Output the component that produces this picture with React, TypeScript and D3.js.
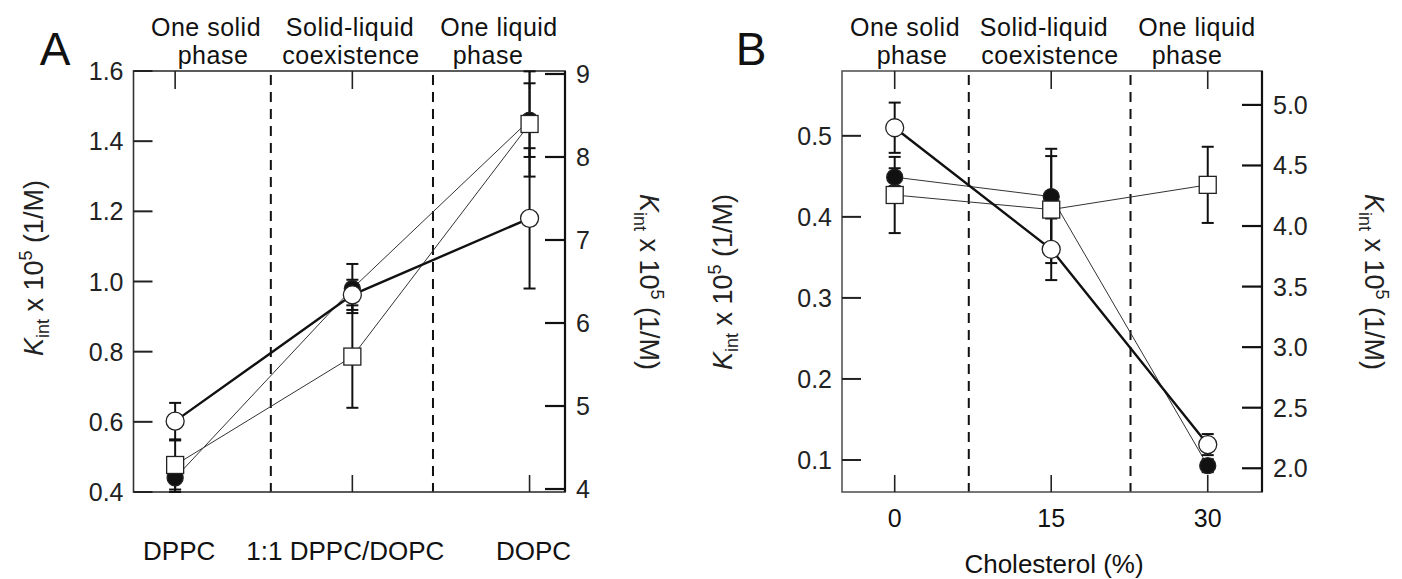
import React from "react";
import * as d3 from "d3";

const FONT = "'Liberation Sans', Arial, Helvetica, sans-serif";

// ---- panel A data (lipid composition) ----
const aCategories = ["DPPC", "1:1 DPPC/DOPC", "DOPC"];
const aX = [0, 1, 2];
const aFilled = [0.44, 0.98, 1.46];
const aFilledErr = [0.04, 0.07, 0.105];
const aOpen = [0.602, 0.962, 1.18];
const aOpenErr = [0.052, 0.043, 0.2];
const aSquare = [0.477, 0.786, 1.449];
const aSquareErr = [0.07, 0.146, 0.15];
const aLeftTicks = [0.4, 0.6, 0.8, 1.0, 1.2, 1.4, 1.6];
const aRightTicks = [4, 5, 6, 7, 8, 9];
const aDividers = [0.54, 1.455];

// ---- panel B data (cholesterol) ----
const bX = [0, 15, 30];
const bFilled = [0.449, 0.425, 0.093];
const bFilledErr = [0.011, 0.059, 0.008];
const bOpen = [0.51, 0.36, 0.119];
const bOpenErr = [0.031, 0.038, 0.013];
const bSquare = [0.427, 0.409, 0.4395];
const bSquareErr = [0.047, 0.066, 0.047];
const bLeftTicks = [0.1, 0.2, 0.3, 0.4, 0.5];
const bRightTicks = [2.0, 2.5, 3.0, 3.5, 4.0, 4.5, 5.0];
const bXTicks = [0, 15, 30];
const bDividers = [7.1, 22.6];

const headers = [
  ["One solid", "phase"],
  ["Solid-liquid", "coexistence"],
  ["One liquid", "phase"],
];

type Series = { values: number[]; errors: number[]; marker: string; thick: boolean };

const YLabel = ({ x, y, rot }: { x: number; y: number; rot: number }) => (
  <text
    transform={`translate(${x},${y}) rotate(${rot})`}
    textAnchor="middle"
    fontSize={27}
    fill="#222"
    style={{ whiteSpace: "pre" }}
  >
    <tspan fontStyle="italic">K</tspan>
    <tspan fontSize={18} dy={6}>int</tspan>
    <tspan dy={-6}> x 10</tspan>
    <tspan fontSize={18} dy={-11}>5</tspan>
    <tspan dy={11}> (1/M)</tspan>
  </text>
);

const Panel = (p: any) => {
  const { x, y, yR, xs, series, left, right, top, bottom } = p;
  const line = (vals: number[]) =>
    d3
      .line<number>()
      .x((_, i) => x(xs[i]))
      .y((d) => y(d))(vals) as string;

  return (
    <g>
      {/* divider lines */}
      {p.dividers.map((d: number, i: number) => (
        <line
          key={"dv" + i}
          x1={x(d)}
          x2={x(d)}
          y1={top + 4}
          y2={bottom}
          stroke="#111"
          strokeWidth={2}
          strokeDasharray="10,7"
        />
      ))}

      {/* frame */}
      <rect
        x={left}
        y={top}
        width={right - left}
        height={bottom - top}
        fill="none"
        stroke={p.frameColor}
        strokeWidth={1.6}
      />

      {/* top / bottom ticks */}
      {p.xTicks.map((t: number, i: number) => (
        <g key={"xt" + i} stroke="#222" strokeWidth={1.6}>
          <line x1={x(t)} x2={x(t)} y1={top} y2={top + 18} />
          <line x1={x(t)} x2={x(t)} y1={bottom} y2={bottom - 17} />
        </g>
      ))}

      {/* left axis */}
      {p.leftTicks.map((t: number, i: number) => (
        <g key={"lt" + i}>
          <line x1={left} x2={left + 19} y1={y(t)} y2={y(t)} stroke="#222" strokeWidth={2} />
          <text x={left - 10} y={y(t)} dy="0.36em" textAnchor="end" fontSize={25} fill="#222">
            {d3.format(".1f")(t)}
          </text>
        </g>
      ))}

      {/* right axis */}
      <line x1={right} x2={right} y1={top} y2={bottom} stroke="#111" strokeWidth={2.2} />
      {p.rightTicks.map((t: number, i: number) => (
        <g key={"rt" + i}>
          <line x1={right - 20} x2={right} y1={yR(t)} y2={yR(t)} stroke="#111" strokeWidth={2.2} />
          <text x={right + 11} y={yR(t)} dy="0.36em" textAnchor="start" fontSize={25} fill="#222">
            {d3.format(p.rightFormat)(t)}
          </text>
        </g>
      ))}

      {/* series lines */}
      {series.map((s: Series, i: number) => (
        <path
          key={"ln" + i}
          d={line(s.values)}
          fill="none"
          stroke={s.thick ? "#111" : "#333"}
          strokeWidth={s.thick ? 2.4 : 1}
        />
      ))}

      {/* error bars */}
      {series.map((s: Series, i: number) =>
        s.values.map((v, j) => {
          const cx = x(xs[j]);
          const y1 = y(v + s.errors[j]);
          const y2 = y(v - s.errors[j]);
          return (
            <g key={"eb" + i + "-" + j} stroke="#111" strokeWidth={2}>
              <line x1={cx} x2={cx} y1={y1} y2={y2} />
              <line x1={cx - 6} x2={cx + 6} y1={y1} y2={y1} />
              <line x1={cx - 6} x2={cx + 6} y1={y2} y2={y2} />
            </g>
          );
        })
      )}

      {/* markers: filled, square, open circle */}
      {["filled", "square", "open"].map((m) =>
        series
          .filter((s: Series) => s.marker === m)
          .map((s: Series) =>
            s.values.map((v, j) => {
              const cx = x(xs[j]);
              const cy = y(v);
              if (m === "square")
                return (
                  <rect key={m + j} x={cx - 8.5} y={cy - 8.5} width={17} height={17} fill="#fff" stroke="#222" strokeWidth={1.3} />
                );
              return (
                <circle
                  key={m + j}
                  cx={cx}
                  cy={cy}
                  r={m === "filled" ? 8 : 9}
                  fill={m === "filled" ? "#111" : "#fff"}
                  stroke="#222"
                  strokeWidth={1.3}
                />
              );
            })
          )
      )}

      {/* phase headers */}
      {headers.map((h, i) =>
        h.map((t, k) => (
          <text
            key={"hd" + i + k}
            x={p.headerX[i][k]}
            y={k === 0 ? 36 : 64}
            textAnchor="middle"
            fontSize={25}
            letterSpacing={0.5}
            fill="#111"
          >
            {t}
          </text>
        ))
      )}

      <text x={p.letterX} y={65} textAnchor="middle" fontSize={46} fill="#111">
        {p.letter}
      </text>
    </g>
  );
};

export default function App() {
  const top = 71;
  const bottom = 492;

  const axA = d3.scaleLinear().domain([-0.235, 2.2]).range([133.5, 565]);
  const ayA = d3.scaleLinear().domain([0.4, 1.6]).range([bottom, top]);
  const ayAR = d3.scaleLinear().domain([3.964, 9.036]).range([bottom, top]);

  const axB = d3.scaleLinear().domain([-5.05, 35.2]).range([842, 1262]);
  const ayB = d3.scaleLinear().domain([0.0605, 0.58]).range([bottom, top]);
  const ayBR = d3.scaleLinear().domain([1.804, 5.28]).range([bottom, top]);

  const seriesA: Series[] = [
    { values: aFilled, errors: aFilledErr, marker: "filled", thick: false },
    { values: aSquare, errors: aSquareErr, marker: "square", thick: false },
    { values: aOpen, errors: aOpenErr, marker: "open", thick: true },
  ];
  const seriesB: Series[] = [
    { values: bFilled, errors: bFilledErr, marker: "filled", thick: false },
    { values: bSquare, errors: bSquareErr, marker: "square", thick: false },
    { values: bOpen, errors: bOpenErr, marker: "open", thick: true },
  ];

  return (
    <svg
      width={1402}
      height={579}
      style={{ position: "absolute", left: 0, top: 0, background: "#fff", fontFamily: FONT }}
    >
      <Panel
        x={axA}
        y={ayA}
        yR={ayAR}
        xs={aX}
        series={seriesA}
        left={133.5}
        right={565}
        top={top}
        bottom={bottom}
        dividers={aDividers}
        xTicks={aX}
        leftTicks={aLeftTicks}
        rightTicks={aRightTicks}
        rightFormat="d"
        frameColor="#333"
        headerX={[[206, 213], [350, 351], [499, 488]]}
        letter="A"
        letterX={55}
      />
      <Panel
        x={axB}
        y={ayB}
        yR={ayBR}
        xs={bX}
        series={seriesB}
        left={842}
        right={1262}
        top={top}
        bottom={bottom}
        dividers={bDividers}
        xTicks={bXTicks}
        leftTicks={bLeftTicks}
        rightTicks={bRightTicks}
        rightFormat=".1f"
        frameColor="#555"
        headerX={[[905, 912], [1044, 1050], [1197, 1187]]}
        letter="B"
        letterX={751}
      />

      {/* panel A category labels */}
      {aCategories.map((c, i) => (
        <text key={c} x={axA(aX[i]) + (i === 1 ? -7 : 4)} y={560} textAnchor="middle" fontSize={26} fill="#111">
          {c}
        </text>
      ))}

      {/* panel B x tick labels */}
      {bXTicks.map((t) => (
        <text key={t} x={axB(t)} y={527} textAnchor="middle" fontSize={25} fill="#111">
          {t}
        </text>
      ))}
      <text x={1054} y={573} textAnchor="middle" fontSize={26} fill="#111">
        Cholesterol (%)
      </text>

      <YLabel x={43} y={268} rot={-90} />
      <YLabel x={640} y={282} rot={90} />
      <YLabel x={732} y={282} rot={-90} />
      <YLabel x={1365} y={282} rot={90} />
    </svg>
  );
}
